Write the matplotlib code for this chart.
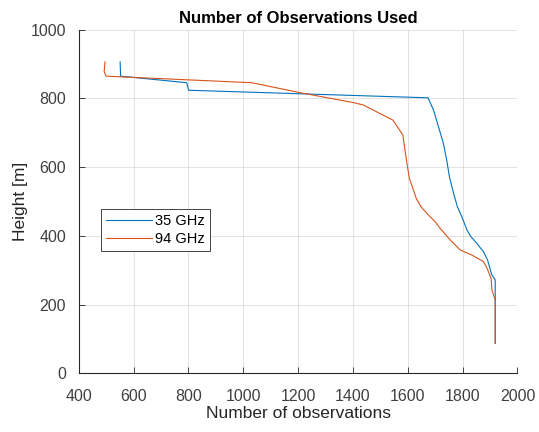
import numpy as np
import matplotlib.pyplot as plt

plt.rcParams["font.family"] = ["Liberation Sans", "DejaVu Sans"]

# observation counts per height level
obs_35 = [551, 553, 794, 801, 1674, 1694, 1712, 1730, 1742, 1752, 1767, 1781,
          1797, 1816, 1830, 1852, 1876, 1891, 1901, 1907, 1919, 1919, 1919]
hgt_35 = [907, 865, 846, 824, 802, 766, 718, 669, 621, 572, 524, 485,
          456, 417, 398, 378, 354, 330, 301, 286, 272, 208, 87]

obs_94 = [496, 493, 500, 1031, 1207, 1402, 1438, 1487, 1546, 1566, 1582, 1590,
          1597, 1606, 1621, 1631, 1648, 1675, 1700, 1718, 1755, 1791, 1834,
          1876, 1889, 1904, 1907, 1919, 1919]
hgt_94 = [907, 878, 865, 846, 817, 788, 781, 761, 737, 713, 694, 650,
          611, 567, 533, 509, 485, 461, 441, 422, 388, 359, 344,
          325, 306, 276, 242, 213, 87]

fig = plt.figure(figsize=(5.39, 4.32), dpi=100)
ax = fig.add_axes([0.146, 0.136, 0.814, 0.795])

ax.plot(obs_35, hgt_35, color="#0072BD", lw=0.8, label="35 GHz")
ax.plot(obs_94, hgt_94, color="#D95319", lw=0.8, label="94 GHz")

ax.set_xlim(400, 2000)
ax.set_ylim(0, 1000)
ax.set_xticks(np.arange(400, 2001, 200))
ax.set_yticks(np.arange(0, 1001, 200))
ax.grid(True, color="#262626", alpha=0.15, lw=0.6)
ax.set_axisbelow(True)

for side in ["top", "right"]:
    ax.spines[side].set_visible(False)
for side in ["left", "bottom"]:
    ax.spines[side].set_color("#262626")
    ax.spines[side].set_linewidth(0.8)
ax.tick_params(direction="in", length=4, width=0.6, color="#262626",
               labelcolor="#404040", labelsize=11.5)
ax.tick_params(axis="x", pad=11)
ax.tick_params(axis="y", pad=9)

ax.set_xlabel("Number of observations", fontsize=12.5, color="#262626", labelpad=2)
ax.set_ylabel("Height [m]", fontsize=12.5, color="#262626", labelpad=2)
ax.set_title("Number of Observations Used", fontsize=12, fontweight="bold",
             color="black", pad=5)

leg = ax.legend(loc="lower left", bbox_to_anchor=(0.05, 0.356), fontsize=10.5,
                fancybox=False, framealpha=1, edgecolor="#262626",
                handlelength=3.2, handletextpad=0.2, borderpad=0.35,
                labelspacing=0.25, borderaxespad=0)
leg.get_frame().set_linewidth(0.6)

fig.savefig("out.png", dpi=100)
